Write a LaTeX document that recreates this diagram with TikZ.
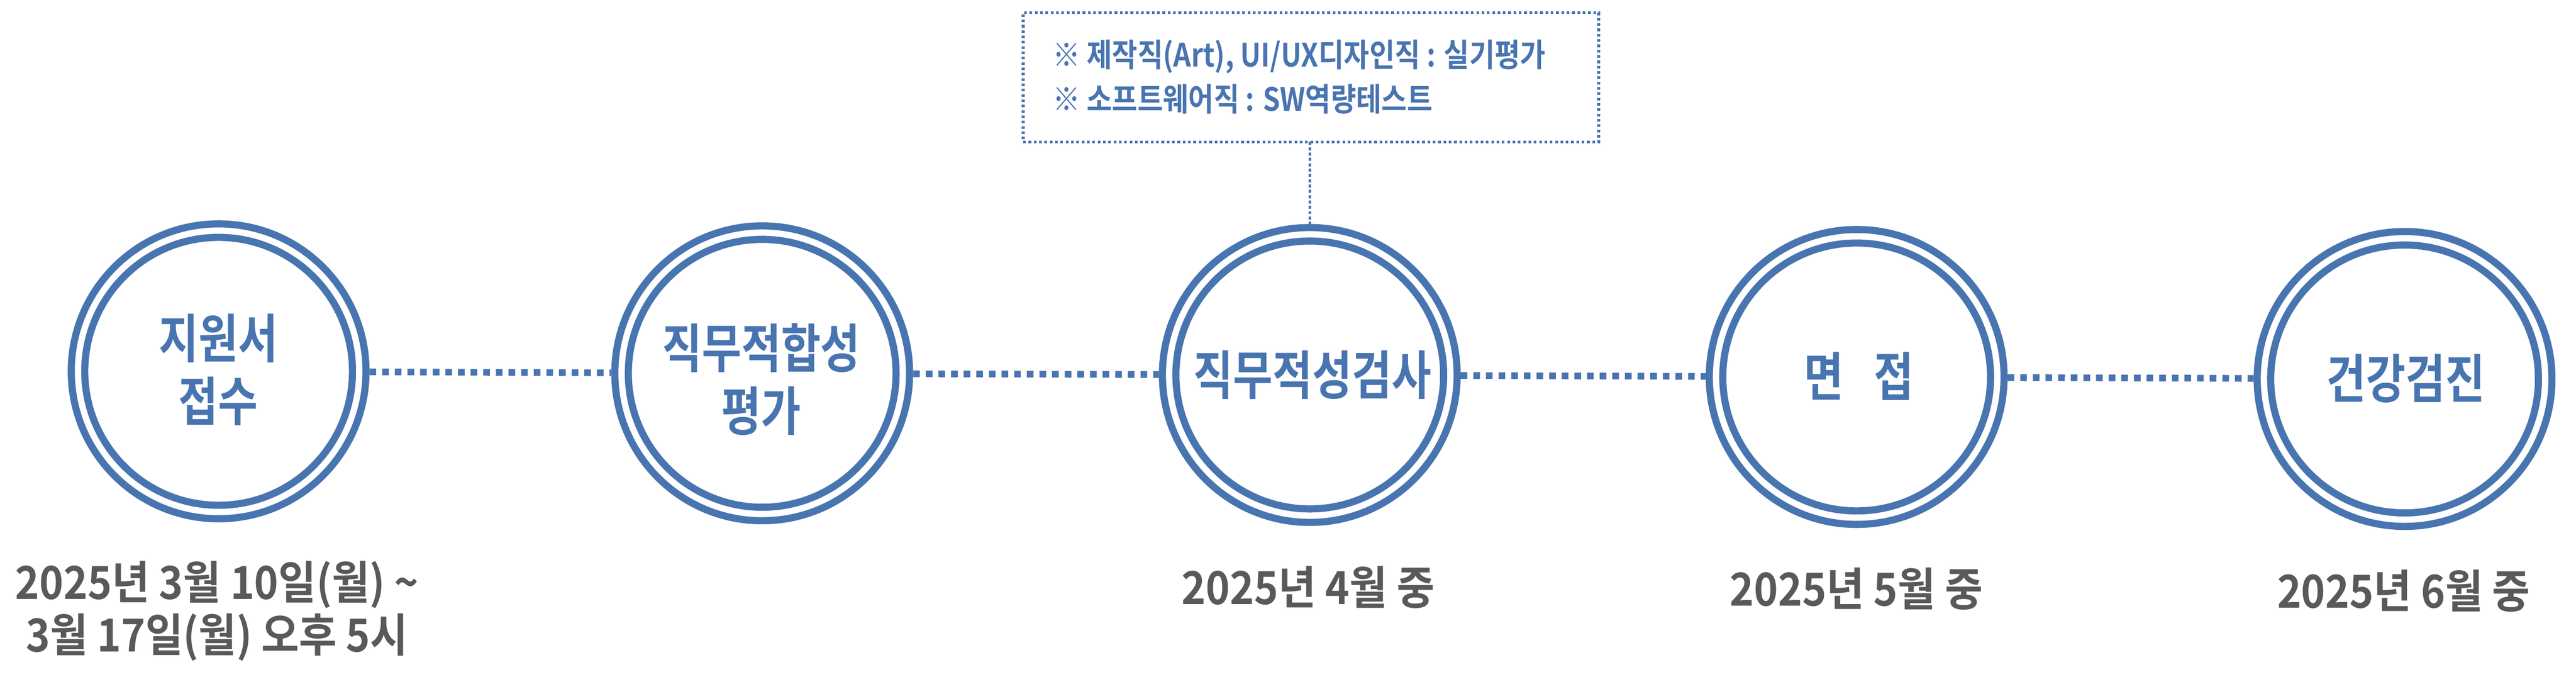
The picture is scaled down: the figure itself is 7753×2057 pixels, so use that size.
\documentclass[tikz,border=0pt]{standalone}
\usepackage{fontspec}
\newfontfamily\kc[FakeStretch=0.82]{Noto Sans CJK KR Bold}
\newfontfamily\kd[FakeStretch=0.9]{Noto Sans CJK KR Bold}
\newfontfamily\kn[FakeStretch=0.86]{Noto Sans CJK KR Bold}
\definecolor{mblue}{HTML}{4874B0}
\definecolor{mgray}{HTML}{595959}
\begin{document}
\begin{tikzpicture}[x=0.01cm,y=-0.01cm,
  ring/.style={circle, draw=mblue, line width=0.215cm, double=white, double distance=0.19cm,
    minimum size=8.46cm, inner sep=0pt, outer sep=0.31cm},
  ctext/.style={text=mblue, font=\kc\fontsize{45}{54}\selectfont, align=center, inner sep=0pt},
  dtext/.style={text=mgray, font=\kd\fontsize{39}{44.7}\selectfont, align=center, inner sep=0pt},
  ntext/.style={text=mblue, font=\kn\fontsize{27.5}{37.8}\selectfont, align=left, inner sep=0pt},
  notebox/.style={draw=mblue, line width=0.08cm, dash pattern=on 0.08cm off 0.08cm,
    minimum width=17.31cm, minimum height=3.89cm, inner sep=0pt, outer sep=0pt},
  hconn/.style={draw=mblue, line width=0.2cm, dash pattern=on 0.2cm off 0.18cm},
  vconn/.style={draw=mblue, line width=0.08cm, dash pattern=on 0.09cm off 0.07cm}
]
\useasboundingbox[fill=white] (0,0) rectangle (7753,2057);

% rings
\node[ring] (c1) at (658,1117) {};
\node[ring] (c2) at (2294,1123) {};
\node[ring] (c3) at (3942,1128) {};
\node[ring] (c4) at (5588,1134) {};
\node[ring] (c5) at (7237,1140) {};

% connectors
\draw[hconn] (c1) -- (c2);
\draw[hconn] (c2) -- (c3);
\draw[hconn] (c3) -- (c4);
\draw[hconn] (c4) -- (c5);

% circle texts
\node[ctext] (t1) at (657,1112) {지원서\\접수};
\node[ctext] (t2) at (2291,1141) {직무적합성\\평가};
\node[ctext] (t3) at (3950,1127) {직무적성검사};
\node[ctext] (t4) at (5595,1131) {면\hspace{0.92cm}접};
\node[ctext] (t5) at (7241,1138) {건강검진};

% dates
\node[dtext] (d1) at (653,1838) {2025년 3월 10일(월) \textasciitilde\\3월 17일(월) 오후 5시};
\node[dtext] (d3) at (3937,1767) {2025년 4월 중};
\node[dtext] (d4) at (5587,1771) {2025년 5월 중};
\node[dtext] (d5) at (7234,1778) {2025년 6월 중};

% note box
\node[notebox] (box) at (3945.5,232.5) {};
\node[ntext, anchor=west] (note) at (3168,231) {※ 제작직(Art), UI/UX디자인직 : 실기평가\\※ 소프트웨어직 : SW역량테스트};
\draw[vconn] (c3.north |- box.south) -- (c3.north);
\end{tikzpicture}
\end{document}
